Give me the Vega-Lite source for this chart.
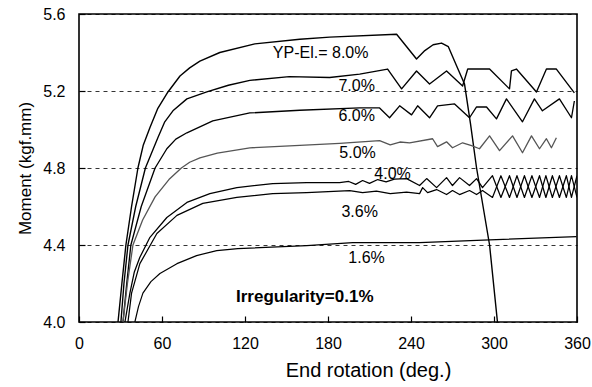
{
  "$schema": "https://vega.github.io/schema/vega-lite/v6.json",
  "width": 498,
  "height": 308,
  "autosize": {"type": "none"},
  "padding": {"left": 79, "top": 14, "right": 15, "bottom": 65},
  "background": "white",
  "config": {
    "font": "Liberation Sans",
    "view": {"stroke": "#000", "strokeWidth": 1.6},
    "axis": {"labelFont": "Liberation Sans", "titleFont": "Liberation Sans", "labelColor": "#000", "titleColor": "#000", "titleFontWeight": "normal", "domain": false, "ticks": true, "tickColor": "#000", "tickWidth": 1.2}
  },
  "datasets": {
    "curves": [
      {"s":"8.0%","x":28.2,"y":4.0},{"s":"8.0%","x":31,"y":4.2},{"s":"8.0%","x":33.9,"y":4.4},{"s":"8.0%","x":38,"y":4.6},{"s":"8.0%","x":42.6,"y":4.8},{"s":"8.0%","x":46.5,"y":4.92},{"s":"8.0%","x":51.3,"y":5.01},{"s":"8.0%","x":57,"y":5.11},{"s":"8.0%","x":64.3,"y":5.195},{"s":"8.0%","x":73,"y":5.278},{"s":"8.0%","x":80,"y":5.32},{"s":"8.0%","x":87.4,"y":5.355},{"s":"8.0%","x":101.8,"y":5.40},{"s":"8.0%","x":127.1,"y":5.445},{"s":"8.0%","x":159.6,"y":5.469},{"s":"8.0%","x":181.2,"y":5.48},{"s":"8.0%","x":229.6,"y":5.495},{"s":"8.0%","x":244,"y":5.366},{"s":"8.0%","x":250,"y":5.41},{"s":"8.0%","x":256,"y":5.44},{"s":"8.0%","x":262.1,"y":5.449},{"s":"8.0%","x":267,"y":5.43},{"s":"8.0%","x":273,"y":5.33},{"s":"8.0%","x":278.7,"y":5.236},{"s":"8.0%","x":283,"y":5.03},{"s":"8.0%","x":287.4,"y":4.8},{"s":"8.0%","x":296.8,"y":4.4},{"s":"8.0%","x":302.5,"y":4.0},
      {"s":"7.0%","x":30.3,"y":4.0},{"s":"7.0%","x":32.5,"y":4.2},{"s":"7.0%","x":35.4,"y":4.4},{"s":"7.0%","x":41,"y":4.6},{"s":"7.0%","x":48,"y":4.8},{"s":"7.0%","x":57,"y":4.957},{"s":"7.0%","x":62,"y":5.04},{"s":"7.0%","x":67.9,"y":5.097},{"s":"7.0%","x":78,"y":5.159},{"s":"7.0%","x":92.4,"y":5.195},{"s":"7.0%","x":108,"y":5.23},{"s":"7.0%","x":123.5,"y":5.255},{"s":"7.0%","x":152,"y":5.275},{"s":"7.0%","x":181.2,"y":5.27},{"s":"7.0%","x":202.9,"y":5.288},{"s":"7.0%","x":223.1,"y":5.314},{"s":"7.0%","x":233.2,"y":5.211},{"s":"7.0%","x":244,"y":5.304},{"s":"7.0%","x":253.4,"y":5.236},{"s":"7.0%","x":265.7,"y":5.304},{"s":"7.0%","x":277.3,"y":5.226},{"s":"7.0%","x":281,"y":5.314},{"s":"7.0%","x":296.8,"y":5.314},{"s":"7.0%","x":311.2,"y":5.211},{"s":"7.0%","x":312.6,"y":5.304},{"s":"7.0%","x":316.2,"y":5.314},{"s":"7.0%","x":330.7,"y":5.195},{"s":"7.0%","x":337.9,"y":5.314},{"s":"7.0%","x":345.1,"y":5.314},{"s":"7.0%","x":358.1,"y":5.19},
      {"s":"6.0%","x":31.8,"y":4.0},{"s":"6.0%","x":34.5,"y":4.2},{"s":"6.0%","x":37.5,"y":4.4},{"s":"6.0%","x":45,"y":4.6},{"s":"6.0%","x":55,"y":4.8},{"s":"6.0%","x":63.5,"y":4.9},{"s":"6.0%","x":70,"y":4.95},{"s":"6.0%","x":78,"y":4.983},{"s":"6.0%","x":96.7,"y":5.045},{"s":"6.0%","x":123.5,"y":5.086},{"s":"6.0%","x":159.6,"y":5.10},{"s":"6.0%","x":202.9,"y":5.112},{"s":"6.0%","x":217.3,"y":5.112},{"s":"6.0%","x":224.5,"y":5.061},{"s":"6.0%","x":231.8,"y":5.123},{"s":"6.0%","x":240.4,"y":5.076},{"s":"6.0%","x":244.8,"y":5.123},{"s":"6.0%","x":253.4,"y":5.061},{"s":"6.0%","x":259.2,"y":5.123},{"s":"6.0%","x":271.5,"y":5.133},{"s":"6.0%","x":282.3,"y":5.061},{"s":"6.0%","x":287.4,"y":5.117},{"s":"6.0%","x":294.6,"y":5.117},{"s":"6.0%","x":301.8,"y":5.055},{"s":"6.0%","x":309,"y":5.159},{"s":"6.0%","x":320.6,"y":5.04},{"s":"6.0%","x":329.2,"y":5.159},{"s":"6.0%","x":335,"y":5.097},{"s":"6.0%","x":347.3,"y":5.159},{"s":"6.0%","x":356,"y":5.061},{"s":"6.0%","x":358.1,"y":5.148},
      {"s":"5.0%","x":31.8,"y":4.0},{"s":"5.0%","x":35,"y":4.2},{"s":"5.0%","x":39,"y":4.4},{"s":"5.0%","x":46,"y":4.53},{"s":"5.0%","x":55,"y":4.65},{"s":"5.0%","x":65,"y":4.74},{"s":"5.0%","x":74,"y":4.8},{"s":"5.0%","x":80,"y":4.83},{"s":"5.0%","x":87.4,"y":4.853},{"s":"5.0%","x":100,"y":4.877},{"s":"5.0%","x":123.5,"y":4.905},{"s":"5.0%","x":159.6,"y":4.918},{"s":"5.0%","x":188.4,"y":4.928},{"s":"5.0%","x":217.3,"y":4.942},{"s":"5.0%","x":225,"y":4.92},{"s":"5.0%","x":232,"y":4.935},{"s":"5.0%","x":239,"y":4.931},{"s":"5.0%","x":255.6,"y":4.952},{"s":"5.0%","x":259.2,"y":4.911},{"s":"5.0%","x":265.7,"y":4.936},{"s":"5.0%","x":270,"y":4.905},{"s":"5.0%","x":277.3,"y":4.931},{"s":"5.0%","x":283.8,"y":4.916},{"s":"5.0%","x":289.5,"y":4.90},{"s":"5.0%","x":296.8,"y":4.967},{"s":"5.0%","x":304,"y":4.89},{"s":"5.0%","x":313.4,"y":4.967},{"s":"5.0%","x":320.6,"y":4.879},{"s":"5.0%","x":327.1,"y":4.967},{"s":"5.0%","x":332.9,"y":4.90},{"s":"5.0%","x":337.9,"y":4.952},{"s":"5.0%","x":341.5,"y":4.905},{"s":"5.0%","x":345.1,"y":4.957},
      {"s":"4.0%","x":33.2,"y":4.0},{"s":"4.0%","x":36.8,"y":4.15},{"s":"4.0%","x":40,"y":4.26},{"s":"4.0%","x":44,"y":4.336},{"s":"4.0%","x":51.3,"y":4.44},{"s":"4.0%","x":63.5,"y":4.543},{"s":"4.0%","x":78,"y":4.621},{"s":"4.0%","x":94.6,"y":4.667},{"s":"4.0%","x":114.1,"y":4.698},{"s":"4.0%","x":140,"y":4.719},{"s":"4.0%","x":164.6,"y":4.724},{"s":"4.0%","x":188.4,"y":4.724},{"s":"4.0%","x":195,"y":4.73},{"s":"4.0%","x":200,"y":4.715},{"s":"4.0%","x":205,"y":4.735},{"s":"4.0%","x":210,"y":4.72},{"s":"4.0%","x":216,"y":4.74},{"s":"4.0%","x":222,"y":4.728},{"s":"4.0%","x":228,"y":4.742},{"s":"4.0%","x":236.8,"y":4.745},{"s":"4.0%","x":246.2,"y":4.709},{"s":"4.0%","x":251.3,"y":4.745},{"s":"4.0%","x":258.5,"y":4.698},{"s":"4.0%","x":265.7,"y":4.75},{"s":"4.0%","x":270,"y":4.709},{"s":"4.0%","x":275.1,"y":4.75},{"s":"4.0%","x":282.3,"y":4.709},{"s":"4.0%","x":287.4,"y":4.745},{"s":"4.0%","x":291.7,"y":4.698},{"s":"4.0%","x":298.9,"y":4.76},{"s":"4.0%","x":305,"y":4.647},{"s":"4.0%","x":311.2,"y":4.76},{"s":"4.0%","x":316.6,"y":4.647},{"s":"4.0%","x":322,"y":4.76},{"s":"4.0%","x":327.4,"y":4.647},{"s":"4.0%","x":332.9,"y":4.76},{"s":"4.0%","x":337.5,"y":4.647},{"s":"4.0%","x":342.2,"y":4.76},{"s":"4.0%","x":347.3,"y":4.647},{"s":"4.0%","x":352.3,"y":4.76},{"s":"4.0%","x":356,"y":4.647},{"s":"4.0%","x":360,"y":4.76},
      {"s":"3.6%","x":35.4,"y":4.0},{"s":"3.6%","x":38,"y":4.15},{"s":"3.6%","x":44,"y":4.303},{"s":"3.6%","x":56.3,"y":4.46},{"s":"3.6%","x":70.8,"y":4.554},{"s":"3.6%","x":89.5,"y":4.616},{"s":"3.6%","x":114.1,"y":4.647},{"s":"3.6%","x":140,"y":4.667},{"s":"3.6%","x":164.6,"y":4.672},{"s":"3.6%","x":195.7,"y":4.683},{"s":"3.6%","x":205,"y":4.672},{"s":"3.6%","x":215,"y":4.68},{"s":"3.6%","x":225,"y":4.667},{"s":"3.6%","x":236.8,"y":4.675},{"s":"3.6%","x":246.2,"y":4.667},{"s":"3.6%","x":248.4,"y":4.698},{"s":"3.6%","x":252,"y":4.672},{"s":"3.6%","x":258.5,"y":4.688},{"s":"3.6%","x":265.7,"y":4.662},{"s":"3.6%","x":270,"y":4.683},{"s":"3.6%","x":275.1,"y":4.662},{"s":"3.6%","x":282.3,"y":4.683},{"s":"3.6%","x":287.4,"y":4.662},{"s":"3.6%","x":291.7,"y":4.683},{"s":"3.6%","x":298.9,"y":4.647},{"s":"3.6%","x":305,"y":4.76},{"s":"3.6%","x":311.2,"y":4.647},{"s":"3.6%","x":316.6,"y":4.76},{"s":"3.6%","x":322,"y":4.647},{"s":"3.6%","x":327.4,"y":4.76},{"s":"3.6%","x":332.9,"y":4.647},{"s":"3.6%","x":337.5,"y":4.76},{"s":"3.6%","x":342.2,"y":4.647},{"s":"3.6%","x":347.3,"y":4.76},{"s":"3.6%","x":352.3,"y":4.647},{"s":"3.6%","x":356,"y":4.76},{"s":"3.6%","x":360,"y":4.647},
      {"s":"1.6%","x":40.4,"y":4.0},{"s":"1.6%","x":43,"y":4.08},{"s":"1.6%","x":46.2,"y":4.15},{"s":"1.6%","x":52,"y":4.21},{"s":"1.6%","x":58.5,"y":4.252},{"s":"1.6%","x":70.8,"y":4.303},{"s":"1.6%","x":85,"y":4.345},{"s":"1.6%","x":99.6,"y":4.371},{"s":"1.6%","x":114.8,"y":4.381},{"s":"1.6%","x":164.6,"y":4.397},{"s":"1.6%","x":197.8,"y":4.412},{"s":"1.6%","x":246.2,"y":4.412},{"s":"1.6%","x":296.8,"y":4.427},{"s":"1.6%","x":359.6,"y":4.443}
    ],
    "labels": [
      {"x":174.7,"y":5.397,"t":"YP-El.= 8.0%"},
      {"x":200.7,"y":5.226,"t":"7.0%"},
      {"x":200.7,"y":5.071,"t":"6.0%"},
      {"x":201.4,"y":4.879,"t":"5.0%"},
      {"x":226.7,"y":4.771,"t":"4.0%"},
      {"x":202.9,"y":4.569,"t":"3.6%"},
      {"x":207.9,"y":4.331,"t":"1.6%"}
    ],
    "note": [
      {"x":163.2,"y":4.129,"t":"Irregularity=0.1%"}
    ]
  },
  "layer": [
    {
      "data": {"name": "curves"},
      "mark": {"type": "line", "strokeJoin": "round", "clip": true},
      "encoding": {
        "x": {"field": "x", "type": "quantitative", "scale": {"domain": [0, 360], "nice": false},
          "axis": {"values": [0, 60, 120, 180, 240, 300, 360], "title": "End rotation (deg.)", "titleFontSize": 20, "labelFontSize": 16, "tickSize": -6, "labelPadding": 19, "titlePadding": 9, "titleX": 289, "titleAlign": "center", "titleAnchor": null, "grid": false, "labelFlush": false}},
        "y": {"field": "y", "type": "quantitative", "scale": {"domain": [4.0, 5.6], "nice": false, "zero": false},
          "axis": {"values": [4.0, 4.2, 4.4, 4.6, 4.8, 5.0, 5.2, 5.4, 5.6], "title": "Moment (kgf.mm)", "titleFontSize": 17, "labelFontSize": 16, "tickSize": -6, "labelPadding": 20, "titlePadding": 8,
            "labelExpr": "round(datum.value*10) % 4 == 0 ? format(datum.value, '.1f') : ''",
            "labelFlush": false,
            "grid": true, "gridColor": "#000", "gridDash": [4, 4], "gridWidth": 0.8,
            "gridOpacity": {"condition": {"test": "round(datum.value*10) % 4 == 0", "value": 1}, "value": 0}}},
        "detail": {"field": "s", "type": "nominal"},
        "color": {"field": "s", "type": "nominal", "legend": null,
          "scale": {"domain": ["8.0%", "7.0%", "6.0%", "5.0%", "4.0%", "3.6%", "1.6%"], "range": ["#000", "#000", "#000", "#555", "#000", "#000", "#000"]}},
        "strokeWidth": {"field": "s", "type": "nominal", "legend": null,
          "scale": {"domain": ["8.0%", "7.0%", "6.0%", "5.0%", "4.0%", "3.6%", "1.6%"], "range": [1.4, 1.2, 1.6, 0.8, 2.6, 1.3, 1.5]}}
      }
    },
    {
      "data": {"name": "labels"},
      "mark": {"type": "text", "align": "center", "baseline": "middle", "fontSize": 16, "color": "#000"},
      "encoding": {
        "x": {"field": "x", "type": "quantitative"},
        "y": {"field": "y", "type": "quantitative"},
        "text": {"field": "t"}
      }
    },
    {
      "data": {"name": "note"},
      "mark": {"type": "text", "align": "center", "baseline": "middle", "fontSize": 17, "fontWeight": "bold", "color": "#000"},
      "encoding": {
        "x": {"field": "x", "type": "quantitative"},
        "y": {"field": "y", "type": "quantitative"},
        "text": {"field": "t"}
      }
    }
  ]
}
